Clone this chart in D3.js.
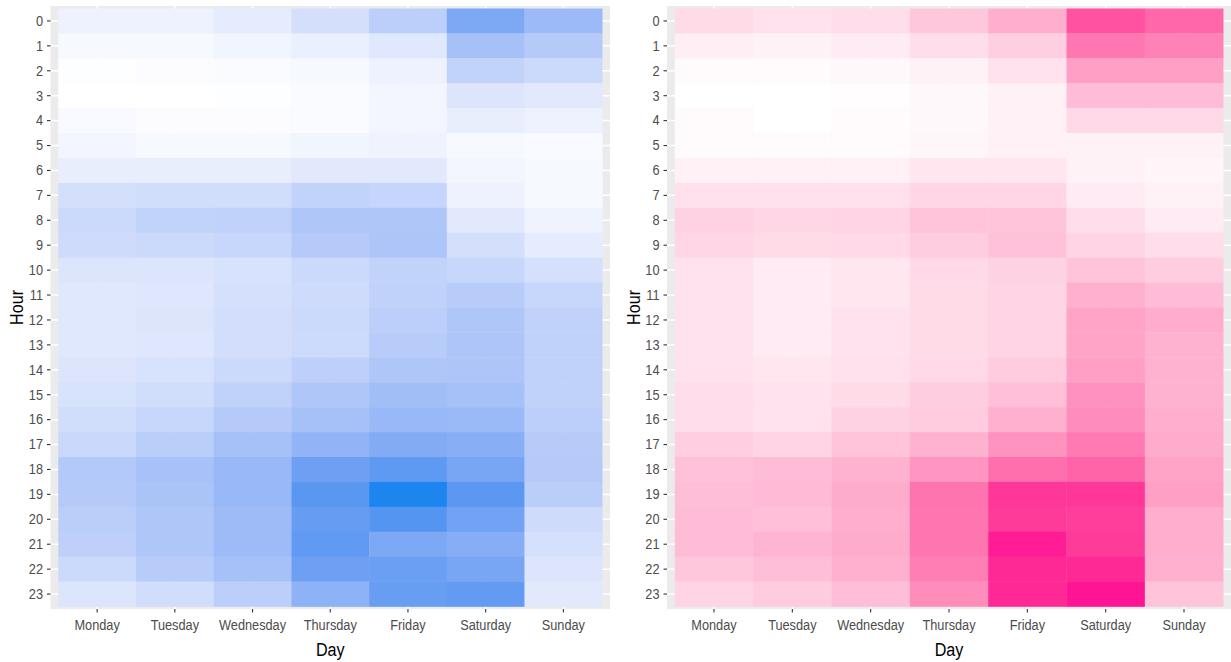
<!DOCTYPE html>
<html>
<head>
<meta charset="utf-8">
<script src="https://d3js.org/d3.v7.min.js"></script>
<style>
  body { margin: 0; background: #fff; }
  text { font-family: "Liberation Sans", Arial, sans-serif; }
</style>
</head>
<body>
<div id="chart"></div>
<script>
// days on x, hours on y
var days = ["Monday", "Tuesday", "Wednesday", "Thursday", "Friday", "Saturday", "Sunday"];
var hours = d3.range(0, 24).map(String);

// left heatmap (blue), one row per hour, Monday..Sunday
var blueValues = [
    [10, 10, 15, 25, 38, 70, 55],
    [5, 5, 8, 12, 18, 50, 42],
    [1, 2, 3, 5, 10, 35, 30],
    [0, 0, 1, 3, 7, 20, 17],
    [4, 2, 2, 3, 7, 13, 10],
    [7, 5, 5, 8, 9, 5, 4],
    [13, 13, 13, 17, 17, 7, 5],
    [25, 27, 27, 35, 33, 10, 5],
    [30, 35, 36, 45, 45, 17, 9],
    [28, 30, 32, 42, 46, 25, 15],
    [20, 20, 23, 30, 35, 32, 24],
    [18, 19, 24, 28, 36, 40, 32],
    [18, 20, 26, 30, 38, 45, 36],
    [18, 19, 26, 29, 40, 46, 36],
    [20, 23, 30, 37, 45, 46, 36],
    [23, 27, 36, 45, 52, 50, 36],
    [27, 32, 42, 50, 57, 56, 38],
    [31, 39, 50, 60, 68, 65, 41],
    [43, 49, 57, 77, 83, 72, 42],
    [42, 47, 57, 85, 100, 84, 39],
    [39, 45, 54, 80, 87, 75, 28],
    [37, 45, 54, 82, 70, 66, 24],
    [30, 40, 50, 77, 78, 72, 20],
    [20, 27, 38, 62, 79, 81, 17]
];

// right heatmap (pink)
var pinkValues = [
    [20, 16, 19, 31, 44, 86, 78],
    [9, 7, 11, 19, 27, 71, 66],
    [2, 2, 4, 7, 16, 52, 52],
    [0, 0, 1, 4, 8, 37, 37],
    [2, 0, 2, 4, 8, 21, 21],
    [2, 2, 2, 5, 8, 7, 7],
    [8, 8, 8, 14, 14, 7, 5],
    [17, 17, 17, 23, 23, 11, 7],
    [25, 23, 24, 33, 33, 19, 11],
    [23, 20, 21, 28, 34, 24, 19],
    [16, 11, 14, 21, 25, 33, 28],
    [16, 11, 14, 20, 24, 43, 37],
    [16, 11, 16, 20, 24, 50, 45],
    [16, 11, 16, 20, 24, 50, 42],
    [16, 14, 17, 21, 29, 52, 42],
    [19, 16, 20, 28, 35, 59, 42],
    [19, 16, 25, 29, 43, 61, 44],
    [27, 24, 33, 42, 58, 70, 46],
    [34, 37, 42, 57, 75, 79, 50],
    [36, 38, 46, 73, 94, 94, 52],
    [37, 35, 44, 72, 93, 92, 44],
    [37, 41, 46, 72, 99, 93, 44],
    [31, 36, 43, 68, 97, 97, 43],
    [24, 29, 36, 61, 97, 100, 33]
];

var width = 1231, height = 662;
var svg = d3.select("#chart").append("svg")
    .attr("width", width)
    .attr("height", height);

var panelTop = 6, panelBottom = 609;
var squeeze = 0.85; // the source image is a bit narrower than tall

function drawPanel(values, highColor, left, right, titleX) {
    var g = svg.append("g");

    // discrete scales, ggplot style expansion (0.6 from centers)
    var x = d3.scaleBand().domain(days).range([left, right]).paddingOuter(0.1);
    var y = d3.scaleBand().domain(hours).range([panelTop, panelBottom]).paddingOuter(0.1);

    var flat = [];
    values.forEach(function(row, i) {
        row.forEach(function(v, j) {
            flat.push({hour: hours[i], day: days[j], value: v});
        });
    });

    var color = d3.scaleLinear()
        .domain(d3.extent(flat, function(d) { return d.value; }))
        .range(["#ffffff", highColor])
        .interpolate(d3.interpolateLab);

    // panel background
    g.append("rect")
        .attr("x", left).attr("y", panelTop)
        .attr("width", right - left).attr("height", panelBottom - panelTop)
        .attr("fill", "#EBEBEB");

    // grid lines
    g.selectAll(".gx").data(days).enter().append("line")
        .attr("x1", function(d) { return x(d) + x.bandwidth() / 2; })
        .attr("x2", function(d) { return x(d) + x.bandwidth() / 2; })
        .attr("y1", panelTop).attr("y2", panelBottom)
        .attr("stroke", "#fff").attr("stroke-width", 1.5);
    g.selectAll(".gy").data(hours).enter().append("line")
        .attr("y1", function(d) { return y(d) + y.bandwidth() / 2; })
        .attr("y2", function(d) { return y(d) + y.bandwidth() / 2; })
        .attr("x1", left).attr("x2", right)
        .attr("stroke", "#fff").attr("stroke-width", 1.5);

    // tiles
    g.selectAll(".tile").data(flat).enter().append("rect")
        .attr("x", function(d) { return x(d.day); })
        .attr("y", function(d) { return y(d.hour); })
        .attr("width", x.bandwidth() + 0.3)
        .attr("height", y.bandwidth() + 0.3)
        .attr("fill", function(d) { return color(d.value); });

    // axes
    var xAxis = g.append("g")
        .attr("transform", "translate(0," + panelBottom + ")")
        .call(d3.axisBottom(x).tickSize(3.5).tickPadding(6.5));
    var yAxis = g.append("g")
        .attr("transform", "translate(" + left + ",0)")
        .call(d3.axisLeft(y).tickSize(3.5).tickPadding(3));

    [xAxis, yAxis].forEach(function(a) {
        a.select(".domain").remove();
        a.selectAll(".tick line").attr("stroke", "#333333").attr("stroke-width", 1.1);
        a.selectAll(".tick text")
            .attr("fill", "#4D4D4D")
            .style("font-size", "15px");
    });
    xAxis.selectAll(".tick text").attr("transform", "scale(" + squeeze + ",1)");
    yAxis.selectAll(".tick text")
        .attr("x", -7.5 / squeeze)
        .attr("transform", "scale(" + squeeze + ",1)");

    // axis titles
    svg.append("text")
        .attr("transform", "translate(" + ((left + right) / 2) + ",656) scale(" + squeeze + ",1)")
        .attr("text-anchor", "middle")
        .style("font-size", "19px")
        .attr("fill", "#000")
        .text("Day");

    svg.append("text")
        .attr("transform", "translate(" + titleX + "," + ((panelTop + panelBottom) / 2) + ") rotate(-90) scale(" + squeeze + ",1)")
        .attr("text-anchor", "middle")
        .style("font-size", "19px")
        .attr("fill", "#000")
        .text("Hour");
}

drawPanel(blueValues, "#1C86EE", 50.5, 610, 23);
drawPanel(pinkValues, "#FF1493", 667, 1231, 640);
</script>
</body>
</html>
